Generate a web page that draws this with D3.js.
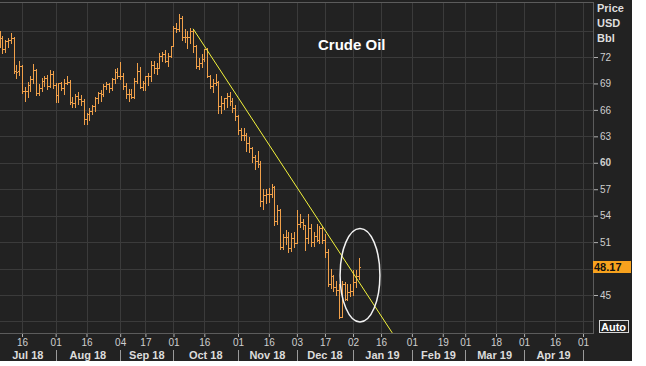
<!DOCTYPE html>
<html>
<head>
<meta charset="utf-8">
<script src="https://cdn.jsdelivr.net/npm/d3@7"></script>
<style>
  body { margin: 0; background: #fff; }
  svg { display: block; font-family: "Liberation Sans", Arial, sans-serif; }
</style>
</head>
<body>
<svg id="chart" width="646" height="366"></svg>
<script>
// WTI crude, daily OHLC, one entry per trading day starting 2018-07-02
const open = [74.1,74.0,74.1,72.9,73.8,73.9,74.1,70.4,70.4,71.0,
  68.1,68.1,68.8,69.5,70.5,67.9,68.5,69.3,69.6,68.7,
  70.1,68.8,67.7,69.0,68.5,69.0,69.2,66.9,66.8,67.6,
  67.2,67.0,65.0,65.5,65.9,66.4,67.4,67.9,67.8,68.7,
  68.9,68.5,69.5,70.3,69.8,69.9,68.7,67.8,67.8,67.5,
  69.3,70.4,68.6,69.0,69.9,69.9,71.1,70.8,70.8,72.1,
  72.3,71.6,72.1,73.3,75.3,75.2,76.4,74.3,74.3,74.3,
  75.0,73.2,71.0,71.3,71.8,72.9,69.8,68.7,69.1,69.2,
  66.4,66.8,67.3,67.6,67.0,66.2,65.3,63.7,63.1,63.1,
  62.2,61.7,60.7,60.2,59.9,55.7,56.3,56.5,56.5,57.2,
  53.4,54.6,50.4,51.6,51.6,50.3,51.5,50.9,53.0,53.3,
  52.9,51.5,52.6,51.0,51.7,51.2,52.6,51.2,49.9,46.2,
  47.2,45.9,45.6,42.5,46.2,44.6,45.3,45.4,46.5,47.1];
const high = [75.3,75.0,74.4,73.9,74.2,74.7,74.3,71.1,71.5,71.1,
  68.6,69.2,69.8,71.2,70.6,68.9,69.6,69.9,70.0,70.5,
  70.4,69.0,69.1,69.2,69.5,69.8,69.4,67.5,67.8,68.0,
  67.7,67.2,65.7,66.2,66.6,67.5,68.0,68.2,68.9,69.2,
  69.1,69.6,70.6,70.7,71.4,70.2,69.1,68.4,68.4,69.6,
  71.3,70.9,69.3,69.9,70.2,71.5,71.6,71.3,72.4,72.6,
  72.8,72.4,73.3,75.5,75.9,76.9,76.6,75.2,75.0,75.3,
  75.2,73.4,71.9,72.3,72.9,73.0,70.0,69.5,70.1,69.3,
  67.6,67.4,67.9,68.0,67.4,66.5,65.4,64.0,63.9,63.4,
  62.9,61.8,60.9,61.3,60.2,57.0,57.0,57.1,57.6,57.4,
  55.2,54.7,51.9,52.4,52.2,52.0,52.1,54.6,54.2,53.6,
  52.9,54.2,53.0,52.2,53.0,52.8,52.8,51.9,50.2,48.0,
  47.3,46.6,46.2,46.6,46.5,46.2,46.3,47.8,47.8,49.2];
const low = [73.1,73.1,72.5,72.6,73.1,73.6,70.2,69.6,70.0,67.9,
  67.0,67.5,68.1,69.0,67.7,67.7,68.1,68.7,68.4,68.6,
  68.5,66.9,66.9,68.2,67.8,68.9,66.7,66.3,66.3,66.7,
  66.6,64.4,64.4,64.9,65.5,65.9,66.8,67.0,67.6,68.4,
  68.0,68.3,69.1,69.6,69.5,68.4,67.3,67.0,67.3,67.3,
  69.1,68.5,68.3,68.3,68.8,69.3,70.2,70.1,70.7,71.6,
  71.4,71.0,72.0,73.3,74.8,75.0,73.9,73.7,73.0,73.6,
  72.6,70.7,70.6,70.9,71.6,69.7,68.5,68.0,68.8,65.7,
  65.7,66.1,66.3,66.5,65.8,64.9,63.3,62.6,62.6,61.3,
  61.2,60.1,59.3,59.5,55.1,54.8,55.4,55.5,56.1,52.9,
  53.1,50.2,50.2,50.8,49.9,50.0,50.5,50.9,52.7,52.5,
  50.1,50.9,50.6,50.6,51.1,50.9,50.9,49.3,46.0,45.8,
  45.5,45.0,42.4,42.5,44.4,44.4,44.9,45.0,45.9,46.8];
const close = [74.15,74.1,72.9,73.8,73.9,74.1,70.4,70.3,71.0,68.1,
  68.1,68.8,69.5,70.5,67.9,68.5,69.3,69.6,68.7,70.1,
  68.8,67.7,69.0,68.5,69.0,69.2,66.9,66.8,67.6,67.2,
  67.0,65.0,65.5,65.9,66.4,67.4,67.9,67.8,68.7,68.9,
  68.5,69.5,70.3,69.8,69.9,68.7,67.8,67.8,67.5,69.3,
  70.4,68.6,69.0,69.9,69.9,71.1,70.8,70.8,72.1,72.3,
  71.6,72.1,73.3,75.3,75.2,76.4,74.3,74.3,74.3,75.0,
  73.2,71.0,71.3,71.8,72.9,69.8,68.7,69.1,69.2,66.4,
  66.8,67.3,67.6,67.0,66.2,65.3,63.7,63.1,63.1,62.2,
  61.7,60.7,60.2,59.9,55.7,56.3,56.5,56.5,57.2,53.4,
  54.6,50.4,51.6,51.6,50.3,51.5,50.9,53.0,53.3,52.9,
  51.5,52.6,51.0,51.7,51.2,52.6,51.2,49.9,46.2,47.2,
  45.9,45.6,42.5,46.2,44.6,45.3,45.4,46.5,47.1,48.17];

// x axis: trading-day index of each tick and month start
const tickIdx = [9,21,32,44,53,63,74,86,97,107,117,127,137,148,159,167,178,188,199,209];
const tickLabels = ["16","01","16","04","17","01","16","01","16","03","17","02","16","01","19","01","18","01","16","01"];
const monthIdx = [0,21,44,63,86,107,127,148,167,188,209];
const monthLabels = ["Jul 18","Aug 18","Sep 18","Oct 18","Nov 18","Dec 18","Jan 19","Feb 19","Mar 19","Apr 19"];

const yTicks = [45,51,54,57,60,63,66,69,72];
const yGrid = [42,45,48,51,54,57,60,63,66,69,72,75];
const lastPrice = 48.17;

// hand drawn annotations, in data units (day index, price)
const trend = [[70, 75.2], [141, 40.7]];
const circle = { i: 129.5, p: 47.25, di: 7.1, dp: 5.3 };

const svg = d3.select("#chart");
const plot = { left: 0, right: 593, top: 2, bottom: 333 };

const x = d3.scaleLinear().domain([9, 209]).range([22, 583]);
const y = d3.scaleLinear().domain([45, 72]).range([295, 57]);

svg.append("rect").attr("width", 632).attr("height", 361).attr("fill", "#222");

svg.append("defs").append("clipPath").attr("id", "clip")
  .append("rect")
  .attr("x", plot.left).attr("y", plot.top)
  .attr("width", plot.right - plot.left).attr("height", plot.bottom - plot.top);

// grid
const grid = svg.append("g").attr("stroke", "#3b3b3b").attr("shape-rendering", "crispEdges");
grid.selectAll(".h").data(yGrid).enter().append("line")
  .attr("x1", plot.left).attr("x2", plot.right)
  .attr("y1", d => Math.round(y(d)) + 0.5).attr("y2", d => Math.round(y(d)) + 0.5);
grid.selectAll(".v").data(tickIdx).enter().append("line")
  .attr("y1", plot.top).attr("y2", plot.bottom)
  .attr("x1", d => Math.round(x(d)) + 0.5).attr("x2", d => Math.round(x(d)) + 0.5);

// frame
const frame = svg.append("g").attr("stroke", "#5c5c5c").attr("shape-rendering", "crispEdges");
frame.append("line").attr("x1", 0).attr("x2", plot.right + 0.5).attr("y1", plot.top + 0.5).attr("y2", plot.top + 0.5);
frame.append("line").attr("x1", plot.right + 0.5).attr("x2", plot.right + 0.5).attr("y1", plot.top).attr("y2", plot.bottom + 1);
frame.append("line").attr("x1", 0).attr("x2", plot.right + 0.5).attr("y1", plot.bottom + 0.5).attr("y2", plot.bottom + 0.5);

const g = svg.append("g").attr("clip-path", "url(#clip)");

// OHLC bars
const bars = d3.range(close.length).map(i => ({ i, o: open[i], h: high[i], l: low[i], c: close[i] }));
g.append("g")
  .attr("stroke", "#f0a04a").attr("stroke-width", 1).attr("shape-rendering", "crispEdges")
  .selectAll("path").data(bars).enter().append("path")
  .attr("fill", "none")
  .attr("d", d => {
    const cx = Math.round(x(d.i)) + 0.5;
    const yo = Math.round(y(d.o)) + 0.5, yc = Math.round(y(d.c)) + 0.5;
    return `M${cx},${Math.round(y(d.h))}V${Math.round(y(d.l)) + 1}` +
      `M${cx - 1.5},${yo}H${cx}M${cx},${yc}H${cx + 1.5}`;
  });

// trend line
g.append("line")
  .attr("x1", x(trend[0][0])).attr("y1", y(trend[0][1]))
  .attr("x2", x(trend[1][0])).attr("y2", y(trend[1][1]))
  .attr("stroke", "#f4f43c").attr("stroke-width", 1);

// circled area
g.append("ellipse")
  .attr("cx", x(circle.i)).attr("cy", y(circle.p))
  .attr("rx", x(circle.i + circle.di) - x(circle.i))
  .attr("ry", y(circle.p - circle.dp) - y(circle.p))
  .attr("fill", "none").attr("stroke", "#f2f2f2").attr("stroke-width", 1.5);

// title
svg.append("text").attr("x", 318).attr("y", 50)
  .attr("fill", "#fff").attr("font-size", 15).attr("font-weight", "bold")
  .text("Crude Oil");

// right axis
const yAxis = svg.append("g")
  .attr("transform", `translate(${plot.right + 1},0)`)
  .call(d3.axisRight(y).tickValues(yTicks).tickSize(4).tickPadding(2).tickFormat(d3.format("d")));
yAxis.select(".domain").remove();
yAxis.selectAll("line").attr("stroke", "#b0b0b0");
yAxis.selectAll("text")
  .attr("fill", "#cfcfcf").attr("font-size", 10)
  .attr("font-family", "Liberation Sans, Arial, sans-serif")
  .attr("font-weight", d => d === 60 ? "bold" : "normal");

svg.append("g").selectAll("text").data(["Price", "USD", "Bbl"]).enter().append("text")
  .attr("x", 597).attr("y", (d, i) => 12 + i * 15)
  .attr("fill", "#dedede").attr("font-size", 11).attr("font-weight", "bold")
  .text(d => d);

// last price tag
const lp = Math.round(y(lastPrice));
svg.append("rect").attr("x", plot.right).attr("y", lp - 6).attr("width", 38).attr("height", 12).attr("fill", "#f7a21e");
svg.append("text").attr("x", 594).attr("y", lp + 4)
  .attr("fill", "#111").attr("font-size", 11).attr("font-weight", "bold").text(lastPrice.toFixed(2));

// "Auto" button
svg.append("rect").attr("x", 599.5).attr("y", 320.5).attr("width", 29).attr("height", 12)
  .attr("fill", "none").attr("stroke", "#d8d8d8");
svg.append("text").attr("x", 601).attr("y", 330.5)
  .attr("fill", "#fff").attr("font-size", 11).attr("font-weight", "bold").text("Auto");

// bottom axis
const xAxis = svg.append("g")
  .attr("transform", `translate(0,${plot.bottom + 1})`)
  .call(d3.axisBottom(x).tickValues(tickIdx).tickSize(3).tickPadding(2).tickFormat((d, i) => tickLabels[i]));
xAxis.select(".domain").remove();
xAxis.selectAll("line").attr("stroke", "#b0b0b0");
xAxis.selectAll("text")
  .attr("fill", "#cfcfcf").attr("font-size", 10)
  .attr("font-family", "Liberation Sans, Arial, sans-serif");

// month separators and labels
svg.append("g").attr("stroke", "#9a9a9a").attr("shape-rendering", "crispEdges")
  .selectAll("line").data(monthIdx.slice(1)).enter().append("line")
  .attr("x1", d => Math.round(x(d)) + 0.5).attr("x2", d => Math.round(x(d)) + 0.5)
  .attr("y1", 350).attr("y2", 361);

svg.append("g").selectAll("text").data(monthLabels).enter().append("text")
  .attr("x", (d, i) => (Math.max(plot.left, x(monthIdx[i])) + x(monthIdx[i + 1])) / 2)
  .attr("y", 359)
  .attr("text-anchor", "middle")
  .attr("fill", "#dcdcdc").attr("font-size", 11).attr("font-weight", "bold")
  .text(d => d);
</script>
</body>
</html>
